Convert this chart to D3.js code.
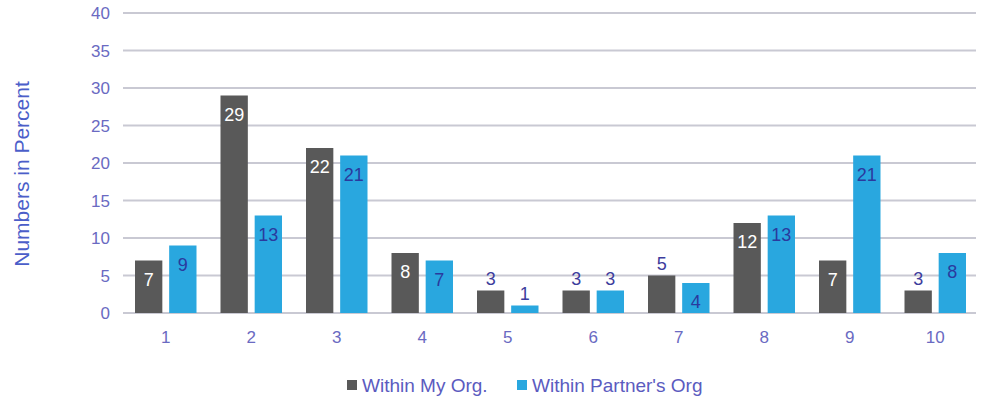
<!DOCTYPE html>
<html>
<head>
<meta charset="utf-8">
<script src="https://cdn.jsdelivr.net/npm/d3@7"></script>
<style>
  body{margin:0;background:#fff;}
  svg text{font-family:"Liberation Sans",Arial,sans-serif;}
</style>
</head>
<body>
<div id="chart"></div>
<script>
var categories=["1","2","3","4","5","6","7","8","9","10"];
var seriesNames=["Within My Org.","Within Partner's Org"];
var myOrg=[7,29,22,8,3,3,5,12,7,3];
var partnerOrg=[9,13,21,7,1,3,4,13,21,8];
var yTicks=[0,5,10,15,20,25,30,35,40];

var W=981,H=400;
var m={top:13,right:3,bottom:87,left:123};
var width=W-m.left-m.right, height=H-m.top-m.bottom;
var colors=["#595959","#29a7df"];

var svg=d3.select("#chart").append("svg").attr("width",W).attr("height",H);
var g=svg.append("g").attr("transform","translate("+m.left+","+m.top+")");

var x=d3.scaleBand().domain(categories).range([0,width]).paddingInner(0).paddingOuter(0);
var x1=d3.scaleBand().domain([0,1]).range([12,x.bandwidth()-12]).paddingInner(0.2);
var y=d3.scaleLinear().domain([0,40]).range([height,0]);

// gridlines
g.selectAll("line.grid").data(yTicks).enter().append("line")
  .attr("x1",0).attr("x2",width-2)
  .attr("y1",function(d){return y(d);}).attr("y2",function(d){return y(d);})
  .attr("stroke","#c9c9d3").attr("stroke-width",2);

// y tick labels
g.selectAll("text.ytick").data(yTicks).enter().append("text")
  .attr("x",-13).attr("y",function(d){return y(d)+6;})
  .attr("text-anchor","end").attr("font-size",17).attr("fill","#6a6ac2")
  .text(function(d){return d;});

// x tick labels
g.selectAll("text.xtick").data(categories).enter().append("text")
  .attr("x",function(d){return x(d)+x.bandwidth()/2;}).attr("y",height+30)
  .attr("text-anchor","middle").attr("font-size",17).attr("fill","#6a6ac2")
  .text(function(d){return d;});

var rows=categories.map(function(c,i){return {cat:c,vals:[myOrg[i],partnerOrg[i]]};});
var thresholds=[6,4];
var insideColors=["#ffffff","#2a3a9e"];

rows.forEach(function(r){
  r.vals.forEach(function(v,s){
    var bx=x(r.cat)+x1(s), bw=x1.bandwidth();
    g.append("rect").attr("x",bx).attr("width",bw)
      .attr("y",y(v)).attr("height",height-y(v)).attr("fill",colors[s]);
    var inside=v>=thresholds[s];
    g.append("text").attr("x",bx+bw/2)
      .attr("y",inside?y(v)+25:y(v)-6)
      .attr("text-anchor","middle").attr("font-size",18)
      .attr("fill",inside?insideColors[s]:"#3d3d9d")
      .text(v);
  });
});

// axis title
svg.append("text").attr("transform","translate(29,174) rotate(-90)")
  .attr("text-anchor","middle").attr("font-size",21).attr("fill","#4b5ec9")
  .text("Numbers in Percent");

// legend
var legX=[347,517];
seriesNames.forEach(function(n,i){
  svg.append("rect").attr("x",legX[i]).attr("y",380).attr("width",10).attr("height",10).attr("fill",colors[i]);
  svg.append("text").attr("x",legX[i]+15).attr("y",392).attr("font-size",19).attr("fill","#5b5bbf").text(n);
});
</script>
</body>
</html>
